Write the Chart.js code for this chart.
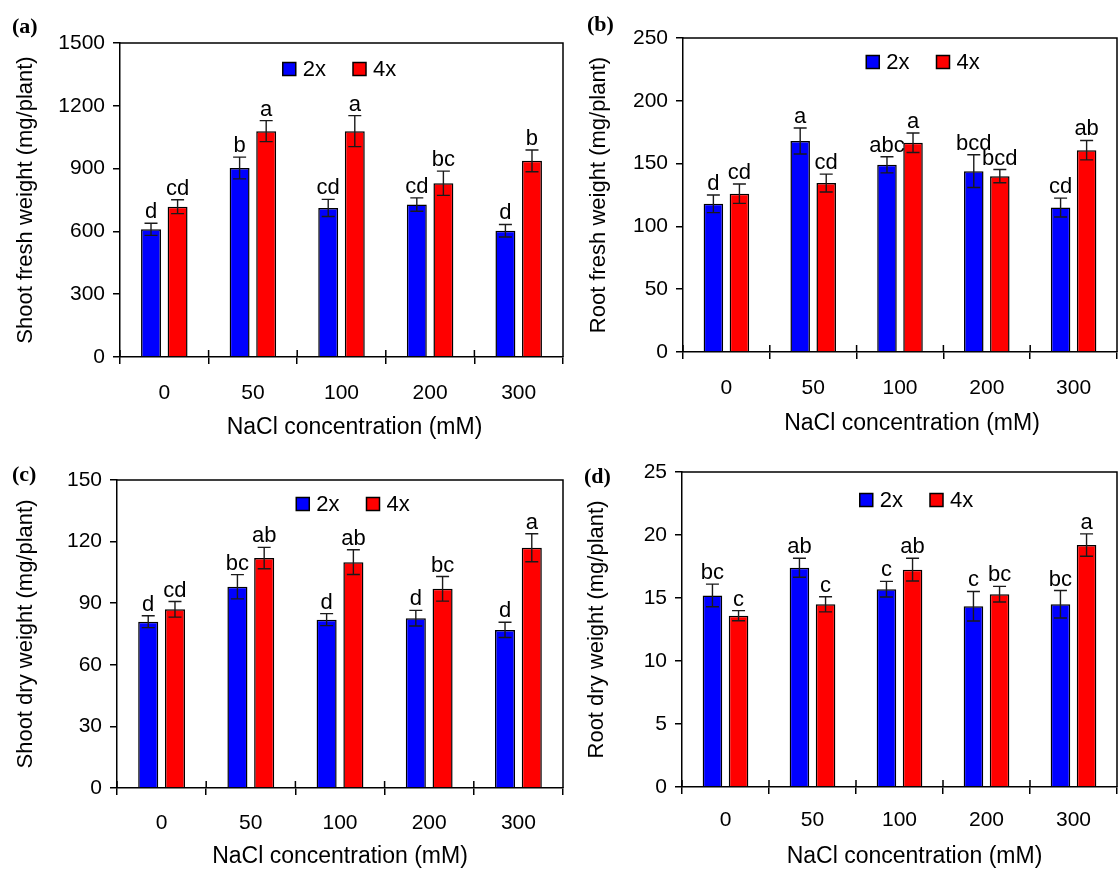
<!DOCTYPE html>
<html>
<head>
<meta charset="utf-8">
<script src="https://cdn.jsdelivr.net/npm/chart.js@4.4.1/dist/chart.umd.min.js"></script>
<style>
  body { margin: 0; background: #fff; }
  #wrap { position: relative; width: 1120px; height: 871px; overflow: hidden; }
  #wrap canvas { position: absolute; }
  .tag { position: absolute; font: bold 22px "Liberation Serif", "Times New Roman", serif; color: #000; }
</style>
</head>
<body>
<div id="wrap">
  <canvas id="chart-a"></canvas>
  <canvas id="chart-b"></canvas>
  <canvas id="chart-c"></canvas>
  <canvas id="chart-d"></canvas>
  <div class="tag" style="left:12px;top:13px">(a)</div>
  <div class="tag" style="left:587px;top:11px">(b)</div>
  <div class="tag" style="left:12px;top:461px">(c)</div>
  <div class="tag" style="left:584px;top:463px">(d)</div>
</div>
<script>
// NaCl treatments
const categories = ['0', '50', '100', '200', '300'];
const xTitle = 'NaCl concentration (mM)';

// (a) shoot fresh weight, mg/plant
const shootFresh2x = [610, 903, 712, 728, 603];
const shootFresh4x = [718, 1079, 1079, 830, 937];
const shootFreshErr2x = [29, 52, 41, 32, 30];
const shootFreshErr4x = [33, 50, 74, 58, 52];
const shootFreshSig2x = ['d', 'b', 'cd', 'cd', 'd'];
const shootFreshSig4x = ['cd', 'a', 'a', 'bc', 'b'];

// (b) root fresh weight
const rootFresh2x = [118, 168, 149, 144, 115];
const rootFresh4x = [126, 134.5, 166.6, 140, 160.7];
const rootFreshErr2x = [7, 10.3, 6.4, 13, 7.5];
const rootFreshErr4x = [7.7, 7.1, 7.8, 5.3, 7.7];
const rootFreshSig2x = ['d', 'a', 'abc', 'bcd', 'cd'];
const rootFreshSig4x = ['cd', 'cd', 'a', 'bcd', 'ab'];

// (c) shoot dry weight
const shootDry2x = [81, 98, 82, 82.7, 77];
const shootDry4x = [87, 112, 110, 97, 117];
const shootDryErr2x = [2.9, 5.9, 2.9, 3.8, 3.7];
const shootDryErr4x = [3.8, 5.2, 6, 6, 6.8];
const shootDrySig2x = ['d', 'bc', 'd', 'd', 'd'];
const shootDrySig4x = ['cd', 'ab', 'ab', 'bc', 'a'];

// (d) root dry weight
const rootDry2x = [15.2, 17.4, 15.7, 14.35, 14.5];
const rootDry4x = [13.6, 14.5, 17.25, 15.3, 19.2];
const rootDryErr2x = [0.9, 0.75, 0.62, 1.17, 1.09];
const rootDryErr4x = [0.4, 0.6, 0.9, 0.62, 0.89];
const rootDrySig2x = ['bc', 'ab', 'c', 'c', 'bc'];
const rootDrySig4x = ['c', 'c', 'ab', 'bc', 'a'];

const FONT = '"Liberation Sans", Arial, sans-serif';
Chart.defaults.font.family = FONT;
Chart.defaults.color = '#000';

// error bars + significance letters above each bar
const errorBars = {
    id: 'errorBars',
    afterDatasetsDraw(chart) {
        const ctx = chart.ctx;
        const y = chart.scales.y;
        ctx.save();
        chart.data.datasets.forEach((ds, di) => {
            chart.getDatasetMeta(di).data.forEach((bar, i) => {
                const v = ds.data[i], e = ds.errors[i];
                const top = y.getPixelForValue(v + e);
                const bot = y.getPixelForValue(v - e);
                ctx.strokeStyle = '#1a1a1a';
                ctx.lineWidth = 1.4;
                ctx.beginPath();
                ctx.moveTo(bar.x, top); ctx.lineTo(bar.x, bot);
                ctx.moveTo(bar.x - 6.5, top); ctx.lineTo(bar.x + 6.5, top);
                ctx.moveTo(bar.x - 6.5, bot); ctx.lineTo(bar.x + 6.5, bot);
                ctx.stroke();
                ctx.fillStyle = '#000';
                ctx.font = '22px ' + FONT;
                ctx.textAlign = 'center';
                ctx.textBaseline = 'alphabetic';
                ctx.fillText(ds.letters[i], bar.x, top - 5);
            });
        });
        ctx.restore();
    }
};

// top/right frame, inward half of the x ticks, x-axis title
const frame = {
    id: 'frame',
    afterDraw(chart, args, opts) {
        const { ctx, chartArea: a, scales: { x } } = chart;
        ctx.save();
        ctx.strokeStyle = '#000';
        ctx.lineWidth = 1.5;
        ctx.beginPath();
        ctx.moveTo(a.left, a.top); ctx.lineTo(a.right, a.top); ctx.lineTo(a.right, a.bottom);
        for (let k = 0; k <= chart.data.labels.length; k++) {
            const px = x.getPixelForValue(k - 0.5);
            ctx.moveTo(px, a.bottom); ctx.lineTo(px, a.bottom - 7);
        }
        ctx.stroke();
        ctx.fillStyle = '#000';
        ctx.font = '23px ' + FONT;
        ctx.textAlign = 'center';
        ctx.textBaseline = 'middle';
        ctx.fillText(opts.title, (a.left + a.right) / 2 + opts.dx, x.bottom - 13);
        ctx.restore();
    }
};

// legend drawn inside the plot, near the top
const insideLegend = {
    id: 'insideLegend',
    afterDraw(chart, args, opts) {
        const { ctx, chartArea: a } = chart;
        const box = 13, gapText = 7, gapItem = 27;
        ctx.save();
        ctx.font = '22px ' + FONT;
        const items = chart.data.datasets.map(ds => ({
            text: ds.label, color: ds.backgroundColor,
            w: box + gapText + ctx.measureText(ds.label).width
        }));
        const total = items.reduce((s, it) => s + it.w, 0) + gapItem * (items.length - 1);
        let px = (a.left + a.right) / 2 + opts.dx - total / 2;
        const py = a.top + opts.dy;
        items.forEach(it => {
            ctx.fillStyle = it.color;
            ctx.fillRect(px, py - box / 2, box, box);
            ctx.strokeStyle = '#000';
            ctx.lineWidth = 1.5;
            ctx.strokeRect(px, py - box / 2, box, box);
            ctx.fillStyle = '#000';
            ctx.textAlign = 'left';
            ctx.textBaseline = 'middle';
            ctx.fillText(it.text, px + box + gapText, py + 1);
            px += it.w + gapItem;
        });
        ctx.restore();
    }
};

function makePanel(cfg) {
    const { id, box, area } = cfg;
    const canvas = document.getElementById(id);
    canvas.width = box.w;
    canvas.height = box.h;
    canvas.style.left = box.x + 'px';
    canvas.style.top = box.y + 'px';
    const xHeight = cfg.xTitleY + 13 - area.bottom;
    const axisLine = { color: '#000', width: 1.5 };
    new Chart(canvas, {
        type: 'bar',
        data: {
            labels: categories,
            datasets: [
                { label: '2x', data: cfg.v2, errors: cfg.e2, letters: cfg.s2,
                  backgroundColor: '#0000ff', borderColor: '#000', borderWidth: 1.5 },
                { label: '4x', data: cfg.v4, errors: cfg.e4, letters: cfg.s4,
                  backgroundColor: '#ff0000', borderColor: '#000', borderWidth: 1.5 }
            ]
        },
        options: {
            responsive: false,
            animation: false,
            categoryPercentage: 0.6,
            barPercentage: 0.75,
            layout: {
                padding: {
                    left: 0,
                    top: area.top - box.y,
                    right: box.x + box.w - area.right,
                    bottom: box.y + box.h - area.bottom - xHeight
                }
            },
            plugins: {
                legend: { display: false },
                tooltip: { enabled: false },
                insideLegend: { dx: cfg.legendDx, dy: cfg.legendDy },
                frame: { title: xTitle, dx: cfg.xTitleDx }
            },
            scales: {
                x: {
                    grid: { offset: true, drawOnChartArea: false, color: '#000', lineWidth: 1.5, tickLength: 7 },
                    border: axisLine,
                    ticks: { font: { size: 21 }, maxRotation: 0, padding: cfg.xLabelY - area.bottom - 7 - 12.6 },
                    afterFit: s => { s.height = xHeight; }
                },
                y: {
                    min: 0,
                    max: cfg.yMax,
                    grid: { drawOnChartArea: false, color: '#000', lineWidth: 1.5, tickLength: 7 },
                    border: axisLine,
                    ticks: { stepSize: cfg.yStep, font: { size: 21 }, padding: 8, callback: v => String(v) },
                    title: { display: true, text: cfg.yTitle, font: { size: 22 },
                             padding: { top: cfg.titleX - box.x - 13.2, bottom: 0 } },
                    afterFit: s => { s.width = area.left - box.x; }
                }
            }
        },
        plugins: [errorBars, frame, insideLegend]
    });
}

makePanel({
    id: 'chart-a', box: { x: 0, y: 0, w: 566, h: 446 },
    area: { left: 120, top: 43, right: 563, bottom: 357 },
    titleX: 26, xTitleY: 428, xTitleDx: 13, xLabelY: 393, legendDx: -2, legendDy: 26,
    yMax: 1500, yStep: 300, yTitle: 'Shoot fresh weight (mg/plant)',
    v2: shootFresh2x, v4: shootFresh4x, e2: shootFreshErr2x, e4: shootFreshErr4x,
    s2: shootFreshSig2x, s4: shootFreshSig4x
});

makePanel({
    id: 'chart-b', box: { x: 560, y: 0, w: 560, h: 446 },
    area: { left: 683, top: 38, right: 1117, bottom: 352 },
    titleX: 599, xTitleY: 424, xTitleDx: 12, xLabelY: 388, legendDx: 23, legendDy: 24,
    yMax: 250, yStep: 50, yTitle: 'Root fresh weight (mg/plant)',
    v2: rootFresh2x, v4: rootFresh4x, e2: rootFreshErr2x, e4: rootFreshErr4x,
    s2: rootFreshSig2x, s4: rootFreshSig4x
});

makePanel({
    id: 'chart-c', box: { x: 0, y: 440, w: 566, h: 431 },
    area: { left: 117, top: 480, right: 563, bottom: 788 },
    titleX: 26, xTitleY: 857, xTitleDx: 0, xLabelY: 823, legendDx: 13, legendDy: 24,
    yMax: 150, yStep: 30, yTitle: 'Shoot dry weight (mg/plant)',
    v2: shootDry2x, v4: shootDry4x, e2: shootDryErr2x, e4: shootDryErr4x,
    s2: shootDrySig2x, s4: shootDrySig4x
});

makePanel({
    id: 'chart-d', box: { x: 560, y: 440, w: 560, h: 431 },
    area: { left: 682, top: 472, right: 1117, bottom: 787 },
    titleX: 597, xTitleY: 857, xTitleDx: 15, xLabelY: 820, legendDx: 17, legendDy: 28,
    yMax: 25, yStep: 5, yTitle: 'Root dry weight (mg/plant)',
    v2: rootDry2x, v4: rootDry4x, e2: rootDryErr2x, e4: rootDryErr4x,
    s2: rootDrySig2x, s4: rootDrySig4x
});
</script>
</body>
</html>
